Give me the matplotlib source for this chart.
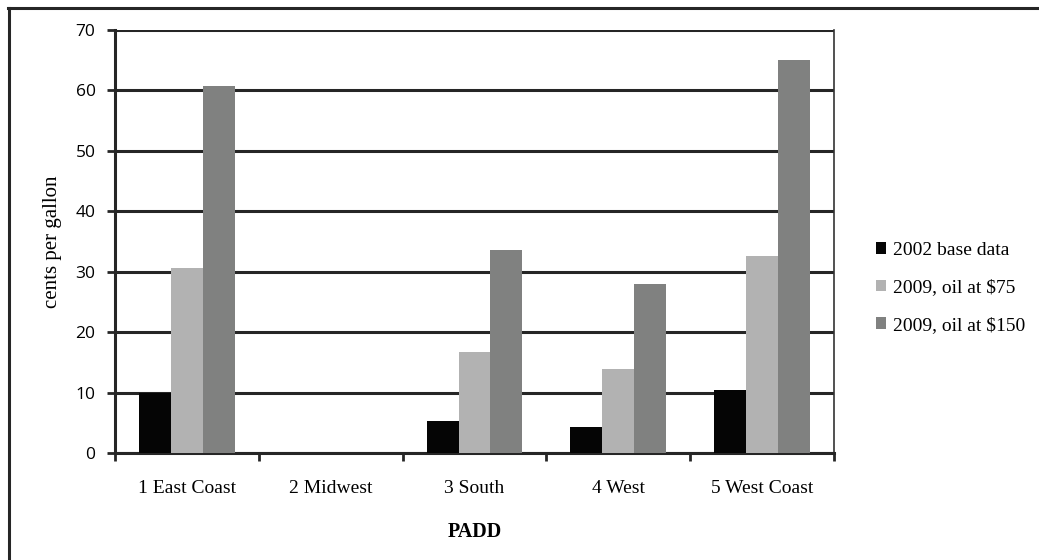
import matplotlib
matplotlib.use('Agg')
import matplotlib.pyplot as plt
from matplotlib.lines import Line2D
import numpy as np

regions = ['1 East Coast', '2 Midwest', '3 South', '4 West', '5 West Coast']
base_2002 = [9.9, 0, 5.4, 4.4, 10.5]
oil_75 = [30.6, 0, 16.7, 13.9, 32.6]
oil_150 = [60.8, 0, 33.6, 28.0, 65.1]
series_names = ['2002 base data', '2009, oil at $75', '2009, oil at $150']
colors = ['#050505', '#b2b2b2', '#808180']

serif = 'Liberation Serif'
sans = 'Open Sans'


def main():
    fig = plt.figure(figsize=(10.39, 5.6), dpi=100)
    ax = fig.add_axes([0.1107, 0.1905, 0.692, 0.7559])

    x = np.arange(len(regions))
    w = 1 / 4.5
    for i, (vals, name) in enumerate(zip([base_2002, oil_75, oil_150], series_names)):
        ax.bar(x + (i - 1) * w, vals, w, color=colors[i], label=name, zorder=3)

    ax.set_xlim(-0.5, len(regions) - 0.5)
    ax.set_ylim(0, 70)
    ax.set_yticks(range(0, 71, 10))
    ax.yaxis.grid(True, color='#262626', linewidth=2.2, zorder=1)
    ax.set_axisbelow(True)

    # category labels in the middle, tick marks at the boundaries
    ax.set_xticks(x)
    ax.set_xticklabels(regions, fontsize=14, family=serif)
    ax.tick_params(axis='x', which='major', length=0, pad=19)
    ax.set_xticks(np.arange(-0.5, len(regions)), minor=True)
    ax.tick_params(axis='x', which='minor', length=6, width=2, color='#262626', direction='out')
    ax.tick_params(axis='y', length=6, width=2, color='#262626', pad=8, labelsize=12.5)
    for lab in ax.get_yticklabels():
        lab.set_family(sans)

    ax.spines['top'].set_visible(False)
    ax.spines['left'].set_linewidth(2.2)
    ax.spines['left'].set_color('#262626')
    ax.spines['bottom'].set_linewidth(2.2)
    ax.spines['bottom'].set_color('#262626')
    ax.spines['right'].set_linewidth(1.2)
    ax.spines['right'].set_color('#333333')

    ax.set_ylabel('cents per gallon', fontsize=15, family=serif, labelpad=10)
    ax.set_xlabel('PADD', fontsize=14.5, family=serif, fontweight='bold', labelpad=18)

    ax.legend(loc='center left', bbox_to_anchor=(0.826, 0.486), bbox_transform=fig.transFigure,
              frameon=False, prop={'family': serif, 'size': 14},
              handlelength=0.55, handleheight=0.55, handletextpad=0.35, labelspacing=1.05)

    # outer frame, only the left and top edges show
    fig.add_artist(Line2D([0.0087, 0.0087], [0, 0.986], transform=fig.transFigure,
                          color='#262626', linewidth=2.2))
    fig.add_artist(Line2D([0.0077, 1], [0.986, 0.986], transform=fig.transFigure,
                          color='#262626', linewidth=2.2))

    fig.savefig('out.png', dpi=100)


if __name__ == "__main__":
    main()
